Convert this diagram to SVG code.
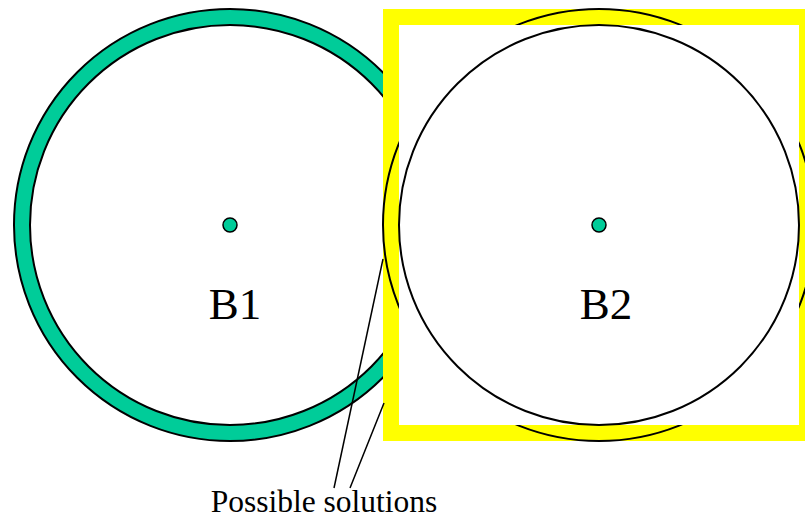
<svg xmlns="http://www.w3.org/2000/svg" width="805" height="518" viewBox="0 0 805 518">
<style>
.ol{fill:none;stroke:#000;stroke-width:2}
.lbl{font-family:"Liberation Serif","Times New Roman",serif;fill:#000}
.dot{fill:#00CC99;stroke:#000;stroke-width:1.5}
.ln{stroke:#000;stroke-width:1.5;fill:none}
</style>
<rect width="805" height="518" fill="#fff"/>
<g id="B1">
<circle cx="230" cy="225" r="216" fill="#00CC99" stroke="#000" stroke-width="2"/>
<circle cx="230" cy="225" r="200" fill="#fff" stroke="#000" stroke-width="2"/>
</g>
<g id="B2">
<rect x="391" y="17" width="416" height="416" fill="none" stroke="#FFFF00" stroke-width="16"/>
<circle class="ol" cx="599" cy="225" r="216"/>
<rect x="399" y="25" width="400" height="400" fill="#fff"/>
<circle class="ol" cx="599" cy="225" r="200"/>
</g>
<g id="B1-center">
<circle class="dot" cx="230" cy="225" r="7"/>
<text class="lbl" x="235" y="319" font-size="45" text-anchor="middle">B1</text>
</g>
<g id="B2-center">
<circle class="dot" cx="599" cy="225" r="7"/>
<text class="lbl" x="606" y="319" font-size="45" text-anchor="middle">B2</text>
</g>
<g id="connectors">
<line class="ln" x1="334" y1="488" x2="383" y2="259"/>
<line class="ln" x1="350" y1="488" x2="384" y2="403"/>
</g>
<g id="label">
<text class="lbl" x="324" y="512" font-size="31.5" text-anchor="middle">Possible solutions</text>
</g>
</svg>
